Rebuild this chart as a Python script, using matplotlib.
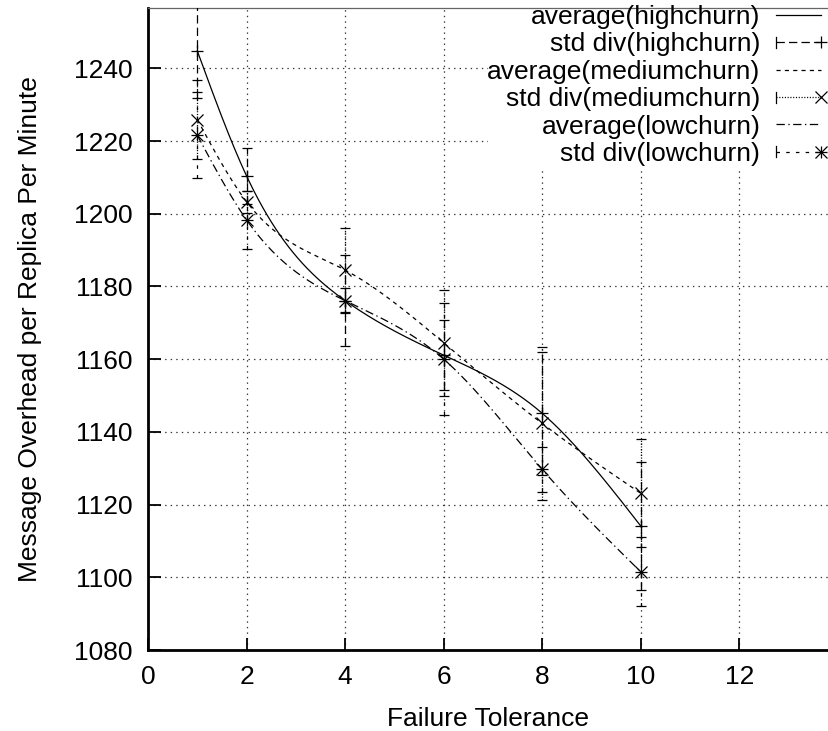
import matplotlib
matplotlib.use("Agg")
import matplotlib.pyplot as plt
import numpy as np
from matplotlib.legend_handler import HandlerBase
from matplotlib.lines import Line2D
from matplotlib.patches import Rectangle

plt.rcParams["font.family"] = ["Liberation Sans", "DejaVu Sans"]
plt.rcParams["lines.scale_dashes"] = False

# Failure tolerance values
x_tol = [1, 2, 4, 6, 8, 10]

# Message overhead (average and std deviation) per churn level
high_avg = [1244.8, 1210.4, 1176.1, 1161.1, 1145.1, 1114.1]
high_std = [13.0, 7.6, 12.5, 9.7, 17.0, 17.7]
medium_avg = [1225.9, 1203.3, 1184.5, 1164.5, 1142.3, 1123.1]
medium_std = [10.9, 3.0, 11.5, 14.5, 21.0, 14.8]
low_avg = [1221.6, 1198.3, 1176.1, 1160.0, 1129.7, 1101.5]
low_std = [11.8, 8.0, 3.5, 15.4, 6.2, 9.5]

x_ticks = [0, 2, 4, 6, 8, 10, 12]
y_ticks = [1080, 1100, 1120, 1140, 1160, 1180, 1200, 1220, 1240]

FS = 19


def natural_spline(x, y, n=300):
    """Natural cubic spline through the points (like gnuplot 'smooth csplines')."""
    x = np.asarray(x, float)
    y = np.asarray(y, float)
    k = len(x)
    h = np.diff(x)
    A = np.zeros((k, k))
    b = np.zeros(k)
    A[0, 0] = A[-1, -1] = 1.0
    for i in range(1, k - 1):
        A[i, i - 1] = h[i - 1]
        A[i, i] = 2 * (h[i - 1] + h[i])
        A[i, i + 1] = h[i]
        b[i] = 6 * ((y[i + 1] - y[i]) / h[i] - (y[i] - y[i - 1]) / h[i - 1])
    m = np.linalg.solve(A, b)
    xs = np.linspace(x[0], x[-1], n)
    idx = np.clip(np.searchsorted(x, xs) - 1, 0, k - 2)
    x0, x1 = x[idx], x[idx + 1]
    hh = x1 - x0
    t0, t1 = x1 - xs, xs - x0
    ys = (m[idx] * t0 ** 3 + m[idx + 1] * t1 ** 3) / (6 * hh) \
        + (y[idx] / hh - m[idx] * hh / 6) * t0 + (y[idx + 1] / hh - m[idx + 1] * hh / 6) * t1
    return xs, ys


class ErrKey:
    def __init__(self, ls, markers):
        self.ls = ls
        self.markers = markers


class ErrHandler(HandlerBase):
    def create_artists(self, legend, orig_handle, xdescent, ydescent, width, height,
                       fontsize, trans):
        y = height / 2 - ydescent
        x0, x1 = -xdescent, width - xdescent
        arts = [Line2D([x0, x1], [y, y], ls=orig_handle.ls, color="k", lw=0.9, transform=trans),
                Line2D([x0, x0], [y - 0.3 * height, y + 0.3 * height], color="k", lw=0.9,
                       transform=trans)]
        for mk in orig_handle.markers:
            arts.append(Line2D([x1], [y], marker=mk, ms=9, mew=0.9, color="k", ls="none",
                               transform=trans))
        return arts


series = [
    ("highchurn", high_avg, high_std, "-", (0, (6, 3)), ["+"]),
    ("mediumchurn", medium_avg, medium_std, (0, (3, 3)), (0, (0.8, 1.2)), ["x"]),
    ("lowchurn", low_avg, low_std, (0, (6, 2.5, 1, 2.5)), (0, (2.5, 4.5)), ["+", "x"]),
]

fig = plt.figure(figsize=(8.29, 7.31), dpi=100)
ax = fig.add_axes([148 / 829, 81 / 731, 1 - 148 / 829, 641.7 / 731])

handles, labels = [], []
for name, avg, std, avg_ls, std_ls, markers in series:
    xs, ys = natural_spline(x_tol, avg)
    ln, = ax.plot(xs, ys, color="k", lw=0.9, ls=avg_ls, zorder=3)
    eb = ax.errorbar(x_tol, avg, yerr=std, fmt="none", ecolor="k", elinewidth=0.9,
                     capsize=3.5, capthick=0.9, zorder=3)
    eb[2][0].set_linestyle(std_ls)
    for mk in markers:
        ax.plot(x_tol, avg, ls="none", marker=mk, ms=9, mew=0.9, color="k", zorder=4)
    handles += [ln, ErrKey(std_ls, markers)]
    labels += [f"average({name})", f"std div({name})"]

ax.set_xlim(0, 13.82)
ax.set_ylim(1080, 1256.5)
ax.set_xticks(x_ticks)
ax.set_yticks(y_ticks)
ax.tick_params(direction="in", length=9, width=1.3, labelsize=FS)
ax.tick_params(axis="y", pad=11)
ax.tick_params(axis="x", pad=11)
ax.grid(True, color="#333333", ls=(0, (1, 3)), lw=0.9)
ax.set_axisbelow(True)

for side in ("left", "bottom"):
    ax.spines[side].set_linewidth(2)
ax.spines["top"].set_linewidth(0.9)
ax.spines["top"].set_color("#666666")
ax.spines["right"].set_visible(False)

# key area hides the grid behind it
ax.add_patch(Rectangle((6.9, 1212), 7.0, 50, facecolor="white", edgecolor="none",
                       zorder=1))

ax.set_xlabel("Failure Tolerance", fontsize=FS, labelpad=13)
ax.set_ylabel("Message Overhead per Replica Per Minute", fontsize=FS, labelpad=23)

ax.legend(handles, labels, handler_map={h: ErrHandler() for h in handles[1::2]},
          loc="upper right", bbox_to_anchor=(821 / 829, 1 - 5 / 731),
          bbox_transform=fig.transFigure, frameon=False, markerfirst=False, fontsize=FS,
          handlelength=1.7, handletextpad=0.6, labelspacing=0.13, borderpad=0.0,
          borderaxespad=0.0)

fig.savefig("out.png", dpi=100)
